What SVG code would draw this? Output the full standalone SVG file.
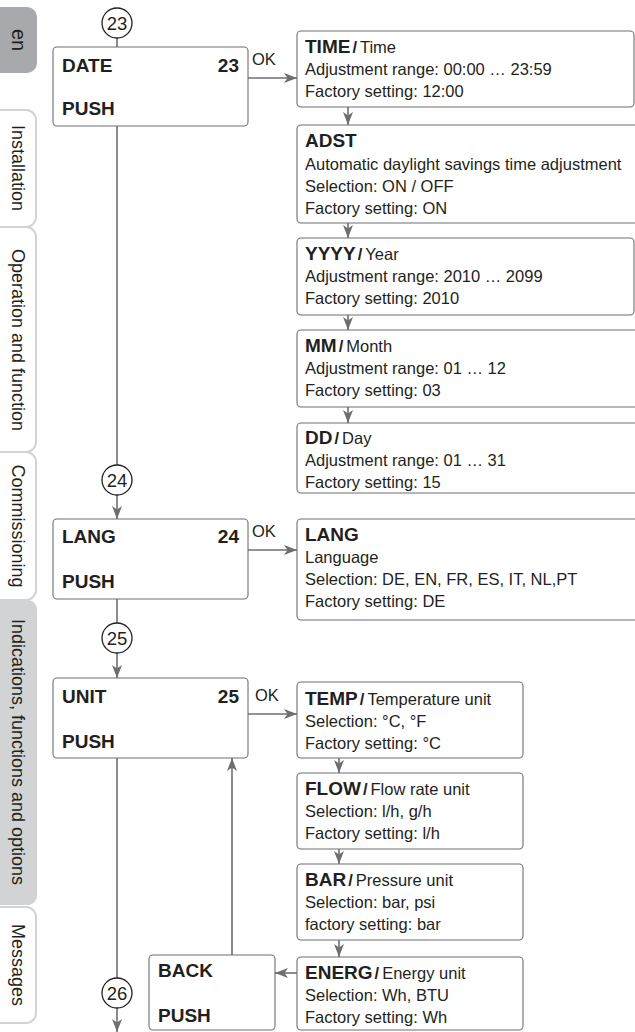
<svg xmlns="http://www.w3.org/2000/svg" width="635" height="1032" viewBox="0 0 635 1032">
<defs>
<style>
text{font-family:"Liberation Sans",Arial,sans-serif;fill:#231f20}
.t{font-size:16.5px}
.b{font-size:19px;font-weight:bold}
.tab{font-size:18px;text-anchor:middle}
.num{font-size:18.5px;text-anchor:middle}
.box{fill:#fff;stroke:#6d6e71;stroke-width:1.1}
.tabw{fill:#fff;stroke:#d1d3d4;stroke-width:2}
.con{stroke:#6d6e71;stroke-width:1.6;fill:none}
.arr{stroke:#6d6e71;stroke-width:1.6;fill:none;marker-end:url(#ah)}
.circ{fill:#fff;stroke:#231f20;stroke-width:1.3}
</style>
<marker id="ah" markerUnits="userSpaceOnUse" markerWidth="14" markerHeight="12" refX="13" refY="5" orient="auto">
<path d="M0,0 L13,5 L0,10 L3.5,5 Z" fill="#6d6e71"/>
</marker>
</defs>

<g id="tabs">
<path d="M0,7 H27 A10,10 0 0 1 37,17 V63 A10,10 0 0 1 27,73 H0 Z" fill="#a7a9ac"/>
<text class="tab" transform="translate(12,40) rotate(90)" style="font-size:20px">en</text>
<path class="tabw" d="M-2,110 H26 A10,10 0 0 1 36,120 V217 A10,10 0 0 1 26,227 H-2"/>
<text class="tab" transform="translate(12,168) rotate(90)">Installation</text>
<path class="tabw" d="M-2,227 H26 A10,10 0 0 1 36,237 V442 A10,10 0 0 1 26,452 H-2"/>
<text class="tab" transform="translate(12,340) rotate(90)">Operation and function</text>
<path class="tabw" d="M-2,452 H26 A10,10 0 0 1 36,462 V590 A10,10 0 0 1 26,600 H-2"/>
<text class="tab" transform="translate(12,526) rotate(90)">Commissioning</text>
<path d="M0,600 H26 A10,10 0 0 1 37,611 V894 A10,10 0 0 1 26,905 H0 Z" fill="#d1d3d4"/>
<text class="tab" transform="translate(12,752) rotate(90)">Indications, functions and options</text>
<path class="tabw" d="M-2,907 H26 A10,10 0 0 1 36,917 V1013 A10,10 0 0 1 26,1023 H-2"/>
<text class="tab" transform="translate(12,965) rotate(90)">Messages</text>
</g>

<g id="connectors">
<line class="con" x1="117" y1="38" x2="117" y2="47"/>
<line class="con" x1="117" y1="126" x2="117" y2="465"/>
<line class="arr" x1="117" y1="495" x2="117" y2="519"/>
<line class="con" x1="117" y1="599" x2="117" y2="623"/>
<line class="arr" x1="117" y1="653" x2="117" y2="678"/>
<line class="con" x1="117" y1="758" x2="117" y2="978"/>
<line class="arr" x1="117" y1="1008" x2="117" y2="1032"/>
<line class="arr" x1="248" y1="78" x2="297" y2="78"/>
<line class="arr" x1="248" y1="550" x2="297" y2="550"/>
<line class="arr" x1="248" y1="714" x2="297" y2="714"/>
<line class="arr" x1="348" y1="107" x2="348" y2="125"/>
<line class="arr" x1="348" y1="223" x2="348" y2="238"/>
<line class="arr" x1="348" y1="315" x2="348" y2="330"/>
<line class="arr" x1="348" y1="407" x2="348" y2="423"/>
<line class="arr" x1="339" y1="758" x2="339" y2="773"/>
<line class="arr" x1="339" y1="849" x2="339" y2="864"/>
<line class="arr" x1="339" y1="940" x2="339" y2="957"/>
<line class="arr" x1="297" y1="973" x2="275" y2="973"/>
<line class="arr" x1="232" y1="955" x2="232" y2="758"/>
<text class="t" x="252" y="65">OK</text>
<text class="t" x="252" y="537">OK</text>
<text class="t" x="255" y="701">OK</text>
</g>

<g id="c23"><circle class="circ" cx="117" cy="23" r="15"/><text class="num" x="117" y="29.5">23</text></g>
<g id="c24"><circle class="circ" cx="117" cy="480" r="15"/><text class="num" x="117" y="486.5">24</text></g>
<g id="c25"><circle class="circ" cx="117" cy="638" r="15"/><text class="num" x="117" y="644.5">25</text></g>
<g id="c26"><circle class="circ" cx="117" cy="993" r="15"/><text class="num" x="117" y="999.5">26</text></g>

<g id="date">
<rect class="box" x="53" y="47" width="195" height="79" rx="4"/>
<text class="b" x="62" y="72">DATE</text>
<text class="b" x="239" y="72" text-anchor="end">23</text>
<text class="b" x="62" y="115">PUSH</text>
</g>
<g id="lang">
<rect class="box" x="53" y="519" width="195" height="80" rx="4"/>
<text class="b" x="62" y="543">LANG</text>
<text class="b" x="239" y="543" text-anchor="end">24</text>
<text class="b" x="62" y="588">PUSH</text>
</g>
<g id="unit">
<rect class="box" x="53" y="678" width="195" height="80" rx="4"/>
<text class="b" x="62" y="703">UNIT</text>
<text class="b" x="239" y="703" text-anchor="end">25</text>
<text class="b" x="62" y="748">PUSH</text>
</g>
<g id="back">
<rect class="box" x="149" y="955" width="126" height="75" rx="4"/>
<text class="b" x="158" y="977">BACK</text>
<text class="b" x="158" y="1022">PUSH</text>
</g>

<g id="time">
<rect class="box" x="297" y="31" width="337" height="76" rx="4"/>
<text class="t" x="305" y="53"><tspan class="b">TIME</tspan><tspan dx="2" font-weight="bold">/</tspan><tspan dx="3">Time</tspan></text>
<text class="t" x="305" y="75">Adjustment range: 00:00 … 23:59</text>
<text class="t" x="305" y="97">Factory setting: 12:00</text>
</g>
<g id="adst">
<rect class="box" x="297" y="125" width="345" height="98" rx="4"/>
<text class="b" x="305" y="147">ADST</text>
<text class="t" x="305" y="170">Automatic daylight savings time adjustment</text>
<text class="t" x="305" y="192">Selection: ON / OFF</text>
<text class="t" x="305" y="214">Factory setting: ON</text>
</g>
<g id="year">
<rect class="box" x="297" y="238" width="337" height="77" rx="4"/>
<text class="t" x="305" y="260"><tspan class="b">YYYY</tspan><tspan dx="2" font-weight="bold">/</tspan><tspan dx="3">Year</tspan></text>
<text class="t" x="305" y="282">Adjustment range: 2010 … 2099</text>
<text class="t" x="305" y="304">Factory setting: 2010</text>
</g>
<g id="month">
<rect class="box" x="297" y="330" width="345" height="77" rx="4"/>
<text class="t" x="305" y="352"><tspan class="b">MM</tspan><tspan dx="2" font-weight="bold">/</tspan><tspan dx="3">Month</tspan></text>
<text class="t" x="305" y="374">Adjustment range: 01 … 12</text>
<text class="t" x="305" y="396">Factory setting: 03</text>
</g>
<g id="day">
<rect class="box" x="297" y="423" width="345" height="70" rx="4"/>
<text class="t" x="305" y="444"><tspan class="b">DD</tspan><tspan dx="2" font-weight="bold">/</tspan><tspan dx="3">Day</tspan></text>
<text class="t" x="305" y="466">Adjustment range: 01 … 31</text>
<text class="t" x="305" y="488">Factory setting: 15</text>
</g>
<g id="langsel">
<rect class="box" x="297" y="519" width="345" height="101" rx="4"/>
<text class="b" x="305" y="541">LANG</text>
<text class="t" x="305" y="563">Language</text>
<text class="t" x="305" y="585">Selection: DE, EN, FR, ES, IT, NL,PT</text>
<text class="t" x="305" y="607">Factory setting: DE</text>
</g>
<g id="temp">
<rect class="box" x="297" y="682" width="226" height="76" rx="4"/>
<text class="t" x="305" y="705"><tspan class="b">TEMP</tspan><tspan dx="2" font-weight="bold">/</tspan><tspan dx="3">Temperature unit</tspan></text>
<text class="t" x="305" y="727">Selection: °C, °F</text>
<text class="t" x="305" y="749">Factory setting: °C</text>
</g>
<g id="flow">
<rect class="box" x="297" y="773" width="226" height="76" rx="4"/>
<text class="t" x="305" y="795"><tspan class="b">FLOW</tspan><tspan dx="2" font-weight="bold">/</tspan><tspan dx="3">Flow rate unit</tspan></text>
<text class="t" x="305" y="817">Selection: l/h, g/h</text>
<text class="t" x="305" y="839">Factory setting: l/h</text>
</g>
<g id="bar">
<rect class="box" x="297" y="864" width="226" height="76" rx="4"/>
<text class="t" x="305" y="886"><tspan class="b">BAR</tspan><tspan dx="2" font-weight="bold">/</tspan><tspan dx="3">Pressure unit</tspan></text>
<text class="t" x="305" y="908">Selection: bar, psi</text>
<text class="t" x="305" y="930">factory setting: bar</text>
</g>
<g id="energ">
<rect class="box" x="297" y="957" width="226" height="73" rx="4"/>
<text class="t" x="305" y="979"><tspan class="b">ENERG</tspan><tspan dx="2" font-weight="bold">/</tspan><tspan dx="3">Energy unit</tspan></text>
<text class="t" x="305" y="1001">Selection: Wh, BTU</text>
<text class="t" x="305" y="1023">Factory setting: Wh</text>
</g>
</svg>
